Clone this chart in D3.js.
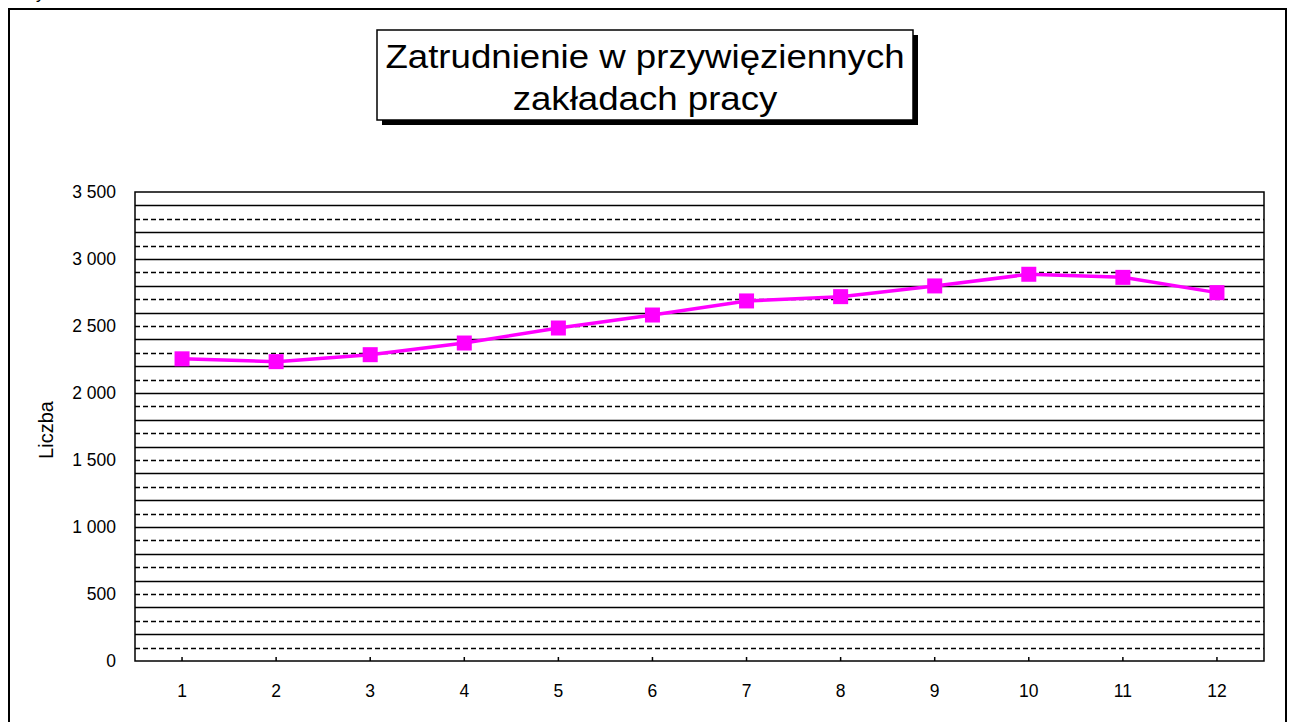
<!DOCTYPE html>
<html>
<head>
<meta charset="utf-8">
<script src="https://cdn.jsdelivr.net/npm/d3@7"></script>
<style>
  html, body { margin: 0; padding: 0; background: #fff; }
  svg { display: block; font-family: "Liberation Sans", Arial, sans-serif; }
</style>
</head>
<body>
<svg id="chart" width="1292" height="722"></svg>
<script>
// --- data ---
const months = ['1', '2', '3', '4', '5', '6', '7', '8', '9', '10', '11', '12'];
const employment = [2255, 2234, 2286, 2373, 2485, 2582, 2687, 2719, 2799, 2886, 2863, 2749];
const yTicks = [0, 500, 1000, 1500, 2000, 2500, 3000, 3500];
const titleLines = ['Zatrudnienie w przywięziennych', 'zakładach pracy'];

const svg = d3.select('#chart');
const plot = { left: 135, right: 1264, top: 192, bottom: 661 };

// outer chart frame (runs off the bottom of the picture)
svg.append('rect')
  .attr('x', 9).attr('y', 9).attr('width', 1277).attr('height', 740)
  .attr('fill', 'none').attr('stroke', '#000').attr('stroke-width', 2);

// header cut off at the top of the page
svg.append('text')
  .attr('x', 20).attr('y', -1)
  .style('font-size', '17px')
  .text('Wykres nr 1');

// title box with shadow
const tb = { x: 377, y: 30, w: 536, h: 90 };
svg.append('rect')
  .attr('x', tb.x + 5).attr('y', tb.y + 5).attr('width', tb.w).attr('height', tb.h)
  .attr('fill', '#000');
svg.append('rect')
  .attr('x', tb.x).attr('y', tb.y).attr('width', tb.w).attr('height', tb.h)
  .attr('fill', '#fff').attr('stroke', '#000').attr('stroke-width', 1.5);
// the original title is a little stretched sideways
svg.append('g')
  .attr('transform', `translate(${tb.x + tb.w / 2},0) scale(1.11,1)`)
  .append('text')
  .attr('text-anchor', 'middle')
  .style('font-size', '33px')
  .selectAll('tspan').data(titleLines).join('tspan')
  .attr('x', 0)
  .attr('y', (d, i) => 68 + i * 42)
  .text(d => d);

// scales
const x = d3.scaleBand().domain(months).range([plot.left, plot.right]);
const y = d3.scaleLinear().domain([0, 3500]).range([plot.bottom, plot.top]);

// gridlines every 100: solid at 200s, dashed in between
const grid = d3.range(100, 3500, 100);
svg.append('g').selectAll('line').data(grid).join('line')
  .attr('x1', plot.left).attr('x2', plot.right)
  .attr('y1', d => Math.round(y(d)) + 0.5).attr('y2', d => Math.round(y(d)) + 0.5)
  .attr('stroke', '#000')
  .attr('stroke-width', 1.3)
  .attr('stroke-dasharray', d => d % 200 === 0 ? null : '5,3');

// plot frame
svg.append('rect')
  .attr('x', plot.left).attr('y', plot.top)
  .attr('width', plot.right - plot.left).attr('height', plot.bottom - plot.top)
  .attr('fill', 'none').attr('stroke', '#000').attr('stroke-width', 1.5);

// y axis labels
const fmt = v => d3.format(',')(v).replace(/,/g, ' ');
const yAxis = svg.append('g')
  .attr('transform', `translate(${plot.left},0)`)
  .call(d3.axisLeft(y).tickValues(yTicks).tickSize(0).tickPadding(19).tickFormat(fmt));
yAxis.select('.domain').remove();
yAxis.selectAll('text').style('font-size', '17.5px').attr('fill', '#000');

// x axis: small inward ticks at category centres
const xAxis = svg.append('g')
  .attr('transform', `translate(0,${plot.bottom})`)
  .call(d3.axisBottom(x).tickSize(-4).tickPadding(24));
xAxis.select('.domain').remove();
xAxis.selectAll('line').attr('stroke', '#000').attr('stroke-width', 1.5);
xAxis.selectAll('text').style('font-size', '17.5px').attr('fill', '#000');

// y axis title
svg.append('text')
  .attr('transform', 'translate(53,430) rotate(-90)')
  .attr('text-anchor', 'middle')
  .style('font-size', '20px')
  .text('Liczba');

// series line and markers
const cx = d => x(d.m) + x.bandwidth() / 2;
const pts = months.map((m, i) => ({ m, v: employment[i] }));
svg.append('path').datum(pts)
  .attr('fill', 'none').attr('stroke', '#ff00ff').attr('stroke-width', 3.5)
  .attr('d', d3.line().x(cx).y(d => y(d.v)));
svg.append('g').selectAll('rect').data(pts).join('rect')
  .attr('x', d => cx(d) - 7.5).attr('y', d => y(d.v) - 7.5)
  .attr('width', 15).attr('height', 15)
  .attr('fill', '#ff00ff');
</script>
</body>
</html>
